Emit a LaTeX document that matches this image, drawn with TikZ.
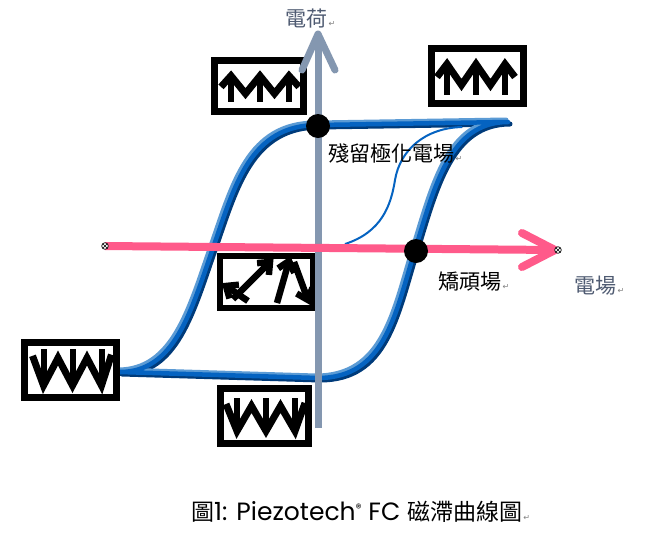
\documentclass[tikz,border=0pt]{standalone}
\usepackage{fontspec}
\setmainfont{Noto Sans CJK TC}
\newfontfamily\latinfont{Poppins}
\newfontfamily\symfont{DejaVu Sans}
\usetikzlibrary{calc}
\definecolor{axisgray}{HTML}{8497B0}
\definecolor{pinkax}{HTML}{FF5A8A}
\definecolor{loopmain}{HTML}{0563C1}
\definecolor{looplight}{HTML}{5B9BD5}
\definecolor{loopdark}{HTML}{003B7A}
\definecolor{labgray}{HTML}{4F5B72}
\newcommand{\parmark}{{\symfont\fontsize{8}{8}\selectfont\color{gray}\,↵}}
\newcommand{\upzig}[3]{%
  \begin{scope}[shift={(#1,#2)},yscale=#3]
    \draw[zig] (-39,1) -- (-29,-12) -- (-14.5,9) -- (0,-12) -- (14.5,9) -- (29,-12) -- (39,1);
    \draw[zig,line width=6pt,line cap=butt] (-29,-12) -- (-29,19) (0,-12) -- (0,19) (29,-12) -- (29,19);
  \end{scope}}
\newcommand{\downzig}[3]{%
  \begin{scope}[shift={(#1,#2)},yscale=#3]
    \draw[zig] (-40,-12) -- (-29,15) -- (-14.5,-10) -- (0,15) -- (14.5,-10) -- (29,15) -- (39,-13);
    \draw[zig,line width=6pt,line cap=butt] (-29,-18) -- (-29,15) (0,-18) -- (0,15) (29,-18) -- (29,15);
  \end{scope}}
\newcommand{\randarr}[4]{%
  \coordinate (T) at (#1,#2); \coordinate (F) at (#3,#4);
  \draw[zig, line width=6.5pt] ($(T)!13pt!40:(F)$) -- (T) -- ($(T)!13pt!-40:(F)$);
  \draw[zig, line width=6.5pt, line cap=butt] (T) -- (F);}
\tikzset{
  zig/.style={line width=7pt, black, line join=miter, miter limit=3},
  statebox/.style={draw=black, line width=6.5pt, fill=white, inner sep=0pt},
  lab/.style={inner sep=0pt, anchor=west, font=\fontsize{21}{21}\selectfont},
  loopline/.style={line width=5pt, line join=round},
}
\begin{document}
\begin{tikzpicture}[x=1pt,y=-1pt]
\useasboundingbox (0,0) rectangle (662,539);
\fill[white] (0,0) rectangle (662,539);

% hysteresis loop (three layers for the shaded look)
\def\looppath{(508,122) -- (318,125) .. controls (250,125) and (235,185) .. (213,248) .. controls (191,311) and (175,372) .. (120,372) -- (318,378) .. controls (385,378) and (395,315) .. (415,250) .. controls (435,185) and (450,122) .. (508,122) -- cycle}
\draw[loopline, loopdark, shift={(2,2)}] \looppath;
\draw[loopline, looplight, shift={(-2,-2)}] \looppath;
\draw[loopline, loopmain, line width=4.5pt] \looppath;

% initial polarisation curve
\draw[loopmain, line width=2pt] (345,244) .. controls (382,232) and (391,205) .. (395,180) .. controls (400,150) and (425,128) .. (462,127);

% state boxes
\node[statebox, minimum width=89pt, minimum height=51pt] (b1) at (259,86) {};
\node[statebox, minimum width=92pt, minimum height=55pt] (b2) at (477.5,76) {};
\node[statebox, minimum width=93pt, minimum height=52pt] (b3) at (266.5,282) {};
\node[statebox, minimum width=92pt, minimum height=55pt] (b4) at (70.5,370) {};
\node[statebox, minimum width=88pt, minimum height=55pt] (b5) at (264.5,416) {};

\upzig{260}{86}{0.85}
\upzig{476}{76}{1}
\downzig{72.5}{369}{1.1}
\downzig{266}{416}{1}

% random orientation arrows
\randarr{270}{262}{233}{299}
\randarr{226}{286}{248}{301}
\randarr{289}{261}{277}{303}
\randarr{308}{300}{294}{262}

% vertical axis (charge)
\coordinate (vbot) at (318,428);
\coordinate (vtop) at (318,34);
\draw[axisgray, line width=7pt] (vbot) -- (vtop);
\draw[axisgray, line width=7pt, line cap=round, line join=round] (302,70) -- (vtop) -- (335,70);

% horizontal axis (field)
\coordinate (hl) at (105,246);
\coordinate (hr) at (555,250);
\draw[pinkax, line width=8pt] (hl) -- (hr);
\draw[pinkax, line width=8pt, line cap=round, line join=round] (522,233) -- (hr) -- (522,267);
\foreach \p in {(105,246),(558,250)} {
  \draw[black, line width=0.7pt, fill=white] \p circle (3.3pt);
  \draw[black, line width=0.6pt] \p ++(-2.2,-2.2) -- ++(4.4,4.4) \p ++(-2.2,2.2) -- ++(4.4,-4.4);
}

% remanence and coercive points
\fill[black] (318,126) circle (12pt) node (rem) {};
\fill[black] (416,251) circle (12pt) node (coe) {};

% labels
\node[lab, text=labgray] (qlab) at (285,19) {電荷\parmark};
\node[lab] (rlab) at (328,154) {殘留極化電場\parmark};
\node[lab] (clab) at (438,282) {矯頑場\parmark};
\node[lab, text=labgray] (elab) at (574,286) {電場\parmark};
\node[inner sep=0pt, anchor=west, font=\fontsize{23}{23}\selectfont] (cap) at (191,512)
  {圖{\latinfont\fontsize{25}{25}\selectfont 1: Piezotech{\fontsize{12}{12}\selectfont\raisebox{8pt}{®}} FC }磁滯曲線圖\parmark};
\end{tikzpicture}
\end{document}
